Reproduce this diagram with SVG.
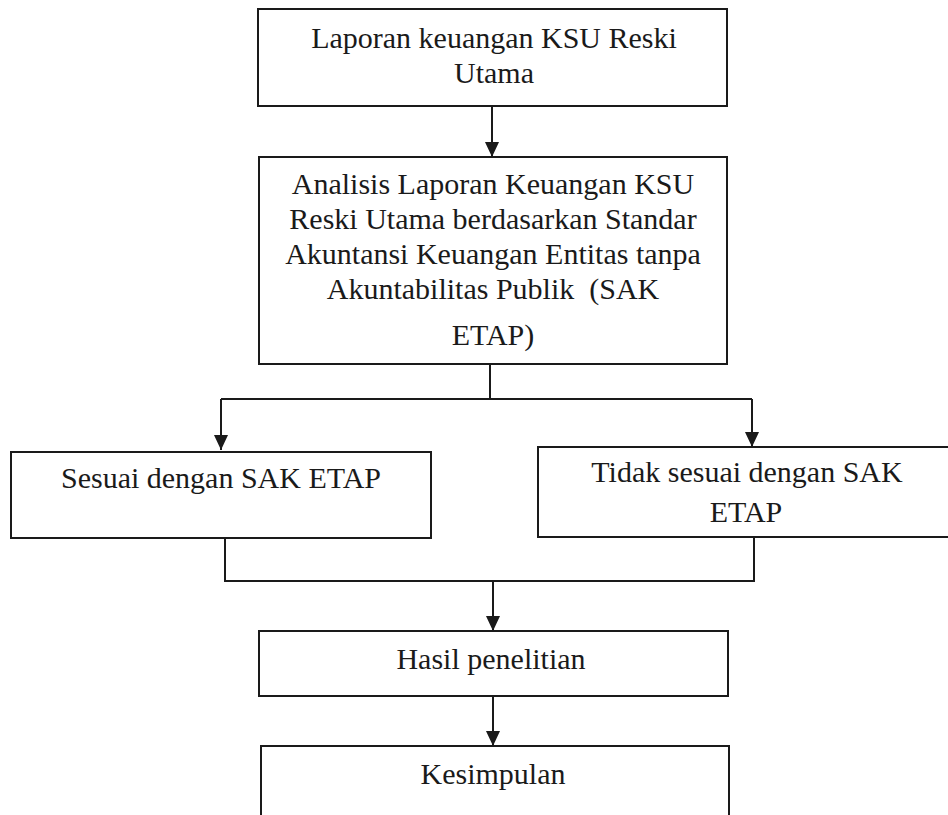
<svg xmlns="http://www.w3.org/2000/svg" width="948" height="815" viewBox="0 0 948 815">
<style>
.box{fill:#ffffff;stroke:#1a1a1a;stroke-width:2}
.ln{fill:none;stroke:#1a1a1a;stroke-width:2}
.t{font-family:'Liberation Serif','Times New Roman',serif;font-size:30px;fill:#1a1a1a;text-anchor:middle}
</style>
<defs>
<marker id="ah" markerUnits="userSpaceOnUse" markerWidth="15" markerHeight="14" refX="15" refY="7" orient="auto" viewBox="0 0 15 14">
<path d="M0,0 L15,7 L0,14 z" fill="#1a1a1a"/>
</marker>
</defs>
<rect width="948" height="815" fill="#ffffff"/>
<g id="connectors">
<line class="ln" x1="492" y1="106" x2="492" y2="157" marker-end="url(#ah)"/>
<polyline class="ln" points="490,364 490,399"/>
<polyline class="ln" points="221,399 752,399"/>
<line class="ln" x1="221" y1="399" x2="221" y2="450" marker-end="url(#ah)"/>
<line class="ln" x1="752" y1="399" x2="752" y2="447" marker-end="url(#ah)"/>
<polyline class="ln" points="225,538 225,581 754,581 754,537"/>
<line class="ln" x1="493" y1="581" x2="493" y2="631" marker-end="url(#ah)"/>
<line class="ln" x1="493" y1="696" x2="493" y2="746" marker-end="url(#ah)"/>
</g>
<g id="n1">
<rect class="box" x="258" y="9" width="469" height="97"/>
<text class="t" x="494" y="48">Laporan keuangan KSU Reski</text>
<text class="t" x="494" y="83">Utama</text>
</g>
<g id="n2">
<rect class="box" x="259" y="157" width="468" height="207"/>
<text class="t" x="493" y="194">Analisis Laporan Keuangan KSU</text>
<text class="t" x="493" y="229">Reski Utama berdasarkan Standar</text>
<text class="t" x="493" y="264">Akuntansi Keuangan Entitas tanpa</text>
<text class="t" x="493" y="299" xml:space="preserve">Akuntabilitas Publik  (SAK</text>
<text class="t" x="493" y="345">ETAP)</text>
</g>
<g id="n3">
<rect class="box" x="11" y="452" width="420" height="86"/>
<text class="t" x="221" y="488">Sesuai dengan SAK ETAP</text>
</g>
<g id="n4">
<rect class="box" x="538" y="447" width="430" height="90"/>
<text class="t" x="747" y="482">Tidak sesuai dengan SAK</text>
<text class="t" x="746" y="522">ETAP</text>
</g>
<g id="n5">
<rect class="box" x="259" y="631" width="469" height="65"/>
<text class="t" x="491" y="669">Hasil penelitian</text>
</g>
<g id="n6">
<rect class="box" x="261" y="746" width="468" height="90"/>
<text class="t" x="493" y="784">Kesimpulan</text>
</g>
</svg>
